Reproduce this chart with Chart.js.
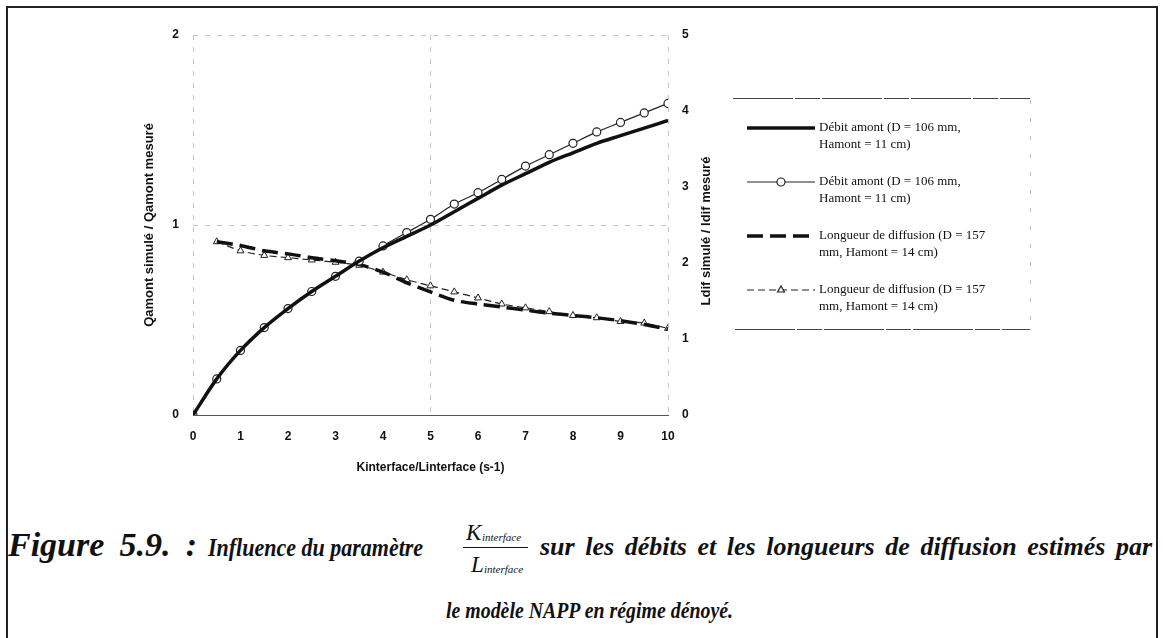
<!DOCTYPE html>
<html lang="fr">
<head>
<meta charset="utf-8">
<title>Figure 5.9</title>
<script src="https://cdn.jsdelivr.net/npm/chart.js@4.4.1/dist/chart.umd.min.js"></script>
<style>
  html, body { margin: 0; padding: 0; background: #fff; }
  body { width: 1163px; height: 638px; position: relative; overflow: hidden; }
  #cadre { position: absolute; left: 6px; top: 6px; width: 1152px; height: 700px;
           border: 2px solid #222; border-bottom: none; box-sizing: border-box; }
  #zone { position: absolute; left: 0; top: 0; width: 1163px; height: 500px; }
  .leg { position: absolute; white-space: nowrap; line-height: 1; color: #111;
         font-family: "Liberation Serif", "Times New Roman", serif; font-style: italic; }
  .b { font-weight: bold; }
  #barre { position: absolute; left: 463px; top: 547px; width: 65px; height: 0;
           border-top: 1.5px solid #111; }
</style>
</head>
<body>
<div id="cadre"></div>
<div id="zone"><canvas id="napp"></canvas></div>

<span class="leg b" data-w="189" style="left:8px; top:528px; font-size:34px;">Figure 5.9. :</span>
<span class="leg b" data-w="215" style="left:208px; top:535px; font-size:25px;">Influence du paramètre</span>
<span class="leg" style="left:466px; top:521px; font-size:23px;">K</span>
<span class="leg" style="left:482px; top:532px; font-size:11px;">interface</span>
<div id="barre"></div>
<span class="leg" style="left:471px; top:553px; font-size:23px;">L</span>
<span class="leg" style="left:484px; top:564px; font-size:11px;">interface</span>
<span class="leg b" data-w="612" style="left:540px; top:534px; font-size:26px;">sur les débits et les longueurs de diffusion estimés par</span>
<span class="leg b" data-w="287" style="left:446px; top:598px; font-size:24px;">le modèle NAPP en régime dénoyé.</span>

<script>
// Kinterface/Linterface (s-1)
const kRatio = [0, 0.5, 1, 1.5, 2, 2.5, 3, 3.5, 4, 4.5, 5, 5.5, 6, 6.5, 7, 7.5, 8, 8.5, 9, 9.5, 10];
const kRatioLdif = kRatio.slice(1);

// Qamont simulé / Qamont mesuré (axe gauche)
const debitCourbe = [0, 0.19, 0.34, 0.46, 0.56, 0.65, 0.73, 0.81, 0.88, 0.94, 1.00, 1.07, 1.14,
                     1.21, 1.27, 1.33, 1.38, 1.43, 1.47, 1.51, 1.55];
const debitPoints = [0, 0.19, 0.34, 0.46, 0.56, 0.65, 0.73, 0.81, 0.89, 0.96, 1.03, 1.11, 1.17,
                     1.24, 1.31, 1.37, 1.43, 1.49, 1.54, 1.59, 1.64];

// Ldif simulé / ldif mesuré (axe droit)
const ldifCourbe = [2.28, 2.23, 2.16, 2.12, 2.07, 2.03, 1.98, 1.88, 1.74, 1.62, 1.51, 1.46,
                    1.42, 1.38, 1.34, 1.31, 1.28, 1.24, 1.19, 1.13];
const ldifPoints = [2.28, 2.16, 2.10, 2.07, 2.04, 2.01, 1.97, 1.88, 1.78, 1.70, 1.62, 1.54,
                    1.46, 1.41, 1.36, 1.31, 1.28, 1.23, 1.21, 1.14];

const ticksGauche = [0, 1, 2];
const ticksDroite = [0, 1, 2, 3, 4, 5];
const ticksX = [0, 1, 2, 3, 4, 5, 6, 7, 8, 9, 10];

const legendes = [
  ['Débit amont (D = 106 mm,', 'Hamont = 11 cm)'],
  ['Débit amont (D = 106 mm,', 'Hamont = 11 cm)'],
  ['Longueur de diffusion (D = 157', 'mm, Hamont = 14 cm)'],
  ['Longueur de diffusion (D = 157', 'mm, Hamont = 14 cm)']
];

const paires = (xs, ys) => xs.map((x, i) => ({ x: x, y: ys[i] }));

const SANS = '"Liberation Sans", Arial, sans-serif';
const SERIF = '"Liberation Serif", "Times New Roman", serif';

// cadre de légende + titre de l'axe droit
const legendeCadre = {
  id: 'legendeCadre',
  afterDraw(chart) {
    const ctx = chart.ctx;
    ctx.save();

    ctx.strokeStyle = '#444';
    ctx.lineWidth = 1.2;
    ctx.setLineDash([60, 2, 25, 2]);
    ctx.beginPath();
    ctx.moveTo(733, 98.5); ctx.lineTo(1030, 98.5);
    ctx.moveTo(735, 329.5); ctx.lineTo(1030, 329.5);
    ctx.stroke();
    ctx.strokeStyle = '#bbb';
    ctx.lineWidth = 1;
    ctx.setLineDash([4, 14]);
    ctx.beginPath();
    ctx.moveTo(1030.5, 100); ctx.lineTo(1030.5, 328);
    ctx.stroke();

    chart.data.datasets.forEach((ds, i) => {
      const y = 128 + i * 54;
      ctx.strokeStyle = ds.borderColor;
      ctx.lineWidth = ds.borderWidth;
      ctx.setLineDash(ds.borderDash || []);
      ctx.beginPath();
      ctx.moveTo(747, y); ctx.lineTo(815, y);
      ctx.stroke();
      ctx.setLineDash([]);
      if (ds.pointRadius > 0) {
        ctx.fillStyle = ds.pointBackgroundColor;
        ctx.strokeStyle = ds.pointBorderColor;
        Chart.helpers.drawPoint(ctx, {
          pointStyle: ds.pointStyle, radius: ds.pointRadius,
          borderWidth: ds.pointBorderWidth, rotation: 0
        }, 781, y);
      }
      ctx.fillStyle = '#111';
      ctx.font = '13px ' + SERIF;
      ctx.textBaseline = 'middle';
      ctx.textAlign = 'left';
      ctx.fillText(legendes[i][0], 819, y);
      ctx.fillText(legendes[i][1], 819, y + 17);
    });

    ctx.translate(706, 231);
    ctx.rotate(-Math.PI / 2);
    ctx.font = 'bold 13px ' + SANS;
    ctx.fillStyle = '#111';
    ctx.textAlign = 'center';
    ctx.textBaseline = 'middle';
    ctx.fillText('Ldif simulé / ldif mesuré', 0, 0);
    ctx.restore();
  }
};

const grisGrille = '#c4c4c4';

new Chart(document.getElementById('napp'), {
  type: 'line',
  data: {
    datasets: [
      {
        label: 'Débit amont (D = 106 mm, Hamont = 11 cm)',
        data: paires(kRatio, debitCourbe),
        yAxisID: 'y',
        borderColor: '#111',
        borderWidth: 3.5,
        pointRadius: 0,
        tension: 0.3
      },
      {
        label: 'Débit amont (D = 106 mm, Hamont = 11 cm)',
        data: paires(kRatio, debitPoints),
        yAxisID: 'y',
        borderColor: '#222',
        borderWidth: 1.2,
        pointStyle: 'circle',
        pointRadius: 4,
        pointBackgroundColor: '#fff',
        pointBorderColor: '#222',
        pointBorderWidth: 1.2,
        tension: 0.2
      },
      {
        label: 'Longueur de diffusion (D = 157 mm, Hamont = 14 cm)',
        data: paires(kRatioLdif, ldifCourbe),
        yAxisID: 'y1',
        borderColor: '#111',
        borderWidth: 3.5,
        borderDash: [16, 7],
        pointRadius: 0,
        tension: 0.3
      },
      {
        label: 'Longueur de diffusion (D = 157 mm, Hamont = 14 cm)',
        data: paires(kRatioLdif, ldifPoints),
        yAxisID: 'y1',
        borderColor: '#222',
        borderWidth: 1.2,
        borderDash: [7, 4],
        pointStyle: 'triangle',
        pointRadius: 4,
        pointBackgroundColor: '#fff',
        pointBorderColor: '#222',
        pointBorderWidth: 1,
        tension: 0.2
      }
    ]
  },
  options: {
    responsive: true,
    maintainAspectRatio: false,
    animation: false,
    layout: { padding: { left: 138, right: 435, top: 35, bottom: 21 } },
    plugins: {
      legend: { display: false },
      tooltip: { enabled: false }
    },
    scales: {
      x: {
        type: 'linear',
        min: 0,
        max: 10,
        afterBuildTicks: s => { s.ticks = ticksX.map(v => ({ value: v })); },
        afterFit: s => { s.height = 64; },
        ticks: { color: '#111', font: { family: SANS, size: 12, weight: 'bold' }, padding: 14 },
        grid: {
          drawTicks: false,
          lineWidth: 1,
          color: c => ([0, 5, 10].includes(c.tick && c.tick.value) ? grisGrille : 'rgba(0,0,0,0)')
        },
        border: { display: true, color: '#555', width: 1, dash: [5, 7] },
        title: {
          display: true,
          text: 'Kinterface/Linterface (s-1)',
          color: '#111',
          font: { family: SANS, size: 12, weight: 'bold' },
          padding: { top: 6, bottom: 4 }
        }
      },
      y: {
        position: 'left',
        min: 0,
        max: 2,
        afterBuildTicks: s => { s.ticks = ticksGauche.map(v => ({ value: v })); },
        afterFit: s => { s.width = 55; },
        ticks: { color: '#111', font: { family: SANS, size: 12, weight: 'bold' }, padding: 14 },
        grid: { drawTicks: false, color: grisGrille, lineWidth: 1 },
        border: { display: false, dash: [5, 7] },
        title: {
          display: true,
          text: 'Qamont simulé / Qamont mesuré',
          color: '#111',
          font: { family: SANS, size: 13, weight: 'bold' },
          padding: { top: 4, bottom: 4 }
        }
      },
      y1: {
        position: 'right',
        min: 0,
        max: 5,
        afterBuildTicks: s => { s.ticks = ticksDroite.map(v => ({ value: v })); },
        afterFit: s => { s.width = 60; },
        ticks: { color: '#111', font: { family: SANS, size: 12, weight: 'bold' }, padding: 14 },
        grid: { display: false, drawTicks: false },
        border: { display: false }
      }
    }
  },
  plugins: [legendeCadre]
});

// ligne justifiée : espaces élargis si le texte est trop court, sinon texte resserré
function ajusteLargeurs() {
  document.querySelectorAll('[data-w]').forEach(el => {
    el.style.transform = 'none';
    el.style.wordSpacing = '0px';
    const w = +el.dataset.w;
    const naturel = el.getBoundingClientRect().width;
    const espaces = (el.textContent.match(/ /g) || []).length;
    if (naturel < w && espaces > 0) {
      el.style.wordSpacing = ((w - naturel) / espaces).toFixed(2) + 'px';
    } else {
      el.style.transformOrigin = 'left top';
      el.style.transform = 'scaleX(' + (w / naturel).toFixed(3) + ')';
    }
  });
}
ajusteLargeurs();
document.fonts.load('italic bold 24px "Liberation Serif"').then(() => document.fonts.ready).then(ajusteLargeurs);
</script>
</body>
</html>
